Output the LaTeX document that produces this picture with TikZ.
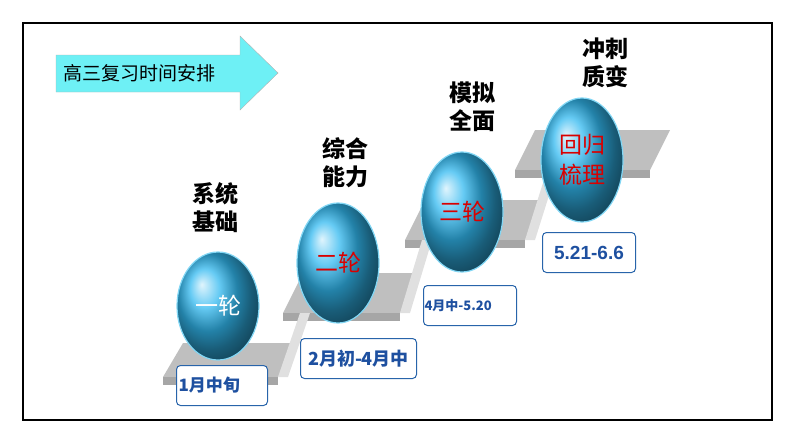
\documentclass[tikz,border=0pt]{standalone}
\usepackage{fontspec}
\usetikzlibrary{shapes.geometric}
\newfontfamily\cjk{Noto Sans CJK SC}
\newcommand\cjkb{\cjk\bfseries}
\setmainfont{Liberation Sans}
\begin{document}
\begin{tikzpicture}[x=1pt,y=-1pt,
  egg/.style={ellipse,minimum width=82pt,minimum height=#1,shading=ball,ball color={rgb,255:red,50;green,185;blue,240},draw={rgb,255:red,130;green,215;blue,245},line width=1.2pt,font=\cjk\fontsize{23}{23}\selectfont},
  datebox/.style={draw={rgb,255:red,40;green,100;blue,170},line width=1pt,rounded corners=4pt,fill=white,text={rgb,255:red,30;green,80;blue,160}},
  head/.style={font=\cjkb\fontsize{23}{28}\selectfont,align=center},
  tread/.style={fill=black!25},
  riser/.style={fill=black!12}]
\useasboundingbox (0,0) rectangle (794,447);
\draw[line width=1.5pt] (23,23) rectangle (772,420);
% arrow
\draw[fill={rgb,255:red,110;green,240;blue,245},draw=black!30] (56,55)--(240,55)--(240,36)--(278,73)--(240,110)--(240,92)--(56,92)--cycle;
\node[font=\cjk\fontsize{19}{19}\selectfont,anchor=west] (t) at (60,73) {高三复习时间安排};
% stairs
\foreach \xa/\xb/\ya/\yb in {163/278/343/377, 283/400/273/313, 405/525/200/240, 515/650/130/170}{
  \fill[tread] (\xa,\yb) -- (\xa+20,\ya) -- (\xb+20,\ya) -- (\xb,\yb) -- cycle;
  \fill[black!35] (\xa,\yb) rectangle (\xb,\yb+8);
}
\foreach \x/\ya/\yb in {278/313/377,400/240/313,525/170/240}{
  \fill[riser] (\x,\yb) -- (\x+22,\ya) -- (\x+32,\ya) -- (\x+10,\yb) -- cycle;
}
% eggs
\node[egg=108pt,text=white] (e1) at (218,306) {一轮};
\node[egg=120pt,text=red!85!black] (e2) at (338,263) {二轮};
\node[egg=120pt,text=red!85!black] (e3) at (462,212) {三轮};
\node[egg=124pt,text=red!85!black,align=center,font=\cjk\fontsize{23}{30}\selectfont] (e4) at (582,160) {回归\\梳理};
% headers
\node[head] (h1) at (215,208) {系统\\基础};
\node[head] (h2) at (345,163) {综合\\能力};
\node[head] (h3) at (472,107) {模拟\\全面};
\node[head] (h4) at (605,63) {冲刺\\质变};
% dates
\node[datebox,minimum width=91pt,minimum height=40pt,font=\cjkb\fontsize{17}{17}\selectfont,anchor=north west,text width=87pt,align=left,inner sep=2pt] (d1) at (176,365) {1月中旬};
\node[datebox,minimum width=116pt,minimum height=40pt,font=\cjkb\fontsize{18}{18}\selectfont,anchor=north west] (d2) at (300,338) {2月初-4月中};
\node[datebox,minimum width=93pt,minimum height=40pt,font=\cjkb\fontsize{13}{13}\selectfont,anchor=north west,text width=91pt,align=left,inner sep=1pt] (d3) at (423,285) {4月中-5.20\\[10pt]};
\node[datebox,minimum width=93pt,minimum height=40pt,font=\bfseries\fontsize{19}{19}\selectfont,anchor=north west] (d4) at (542,232) {5.21-6.6};
\end{tikzpicture}
\end{document}
